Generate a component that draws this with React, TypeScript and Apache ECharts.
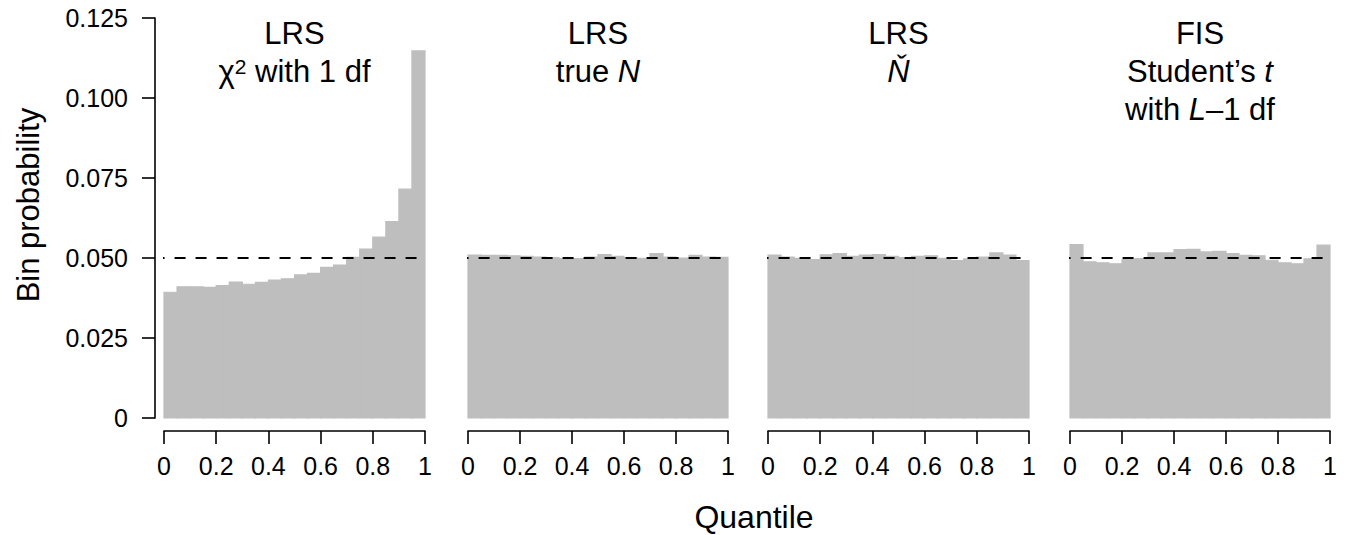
import React, { useEffect, useRef } from "react";
import * as echarts from "echarts";

const binEdges = [0, 0.05, 0.1, 0.15, 0.2, 0.25, 0.3, 0.35, 0.4, 0.45, 0.5, 0.55, 0.6, 0.65, 0.7, 0.75, 0.8, 0.85, 0.9, 0.95, 1];

const lrsChiSq = [0.0393, 0.041, 0.041, 0.0408, 0.0414, 0.0425, 0.0418, 0.0424, 0.0431, 0.0435, 0.0447, 0.0452, 0.0471, 0.0478, 0.0502, 0.0528, 0.0565, 0.0614, 0.0715, 0.1147];
const lrsTrueN = [0.0509, 0.0508, 0.0508, 0.0507, 0.0505, 0.0503, 0.0501, 0.0498, 0.0498, 0.0503, 0.0511, 0.0505, 0.0501, 0.0499, 0.0514, 0.0503, 0.05, 0.0508, 0.0503, 0.0502];
const lrsNHat = [0.0509, 0.0503, 0.0499, 0.0495, 0.051, 0.0514, 0.0505, 0.0509, 0.0511, 0.0505, 0.0501, 0.0505, 0.0507, 0.0499, 0.0492, 0.0497, 0.0503, 0.0516, 0.0509, 0.0492];
const fisStudentT = [0.0542, 0.0488, 0.0485, 0.0482, 0.0495, 0.0498, 0.0516, 0.0516, 0.0526, 0.0527, 0.0519, 0.0521, 0.0514, 0.0508, 0.0507, 0.0493, 0.0485, 0.0482, 0.0497, 0.054];

const panels = [lrsChiSq, lrsTrueN, lrsNHat, fisStudentT];
const referenceLevel = 0.05;
const yTicks = [0, 0.025, 0.05, 0.075, 0.1, 0.125];
const xTicks = [0, 0.2, 0.4, 0.6, 0.8, 1];

const FONT = "'Liberation Sans', Arial, Helvetica, sans-serif";
const gridLefts = [164, 468, 768, 1070];
const gridWidths = [261, 260, 261, 260];
const GRID_TOP = 18;
const GRID_H = 400;
const BAR_COLOR = "#BEBEBE";

export default function App() {
  const ref = useRef<HTMLDivElement>(null);
  useEffect(() => {
    document.body.style.margin = "0";
    if (!ref.current) return;
    const chart = echarts.init(ref.current, null, { renderer: "svg" });

    const grids = gridLefts.map((l, i) => ({
      left: l,
      width: gridWidths[i],
      top: GRID_TOP,
      height: GRID_H,
      containLabel: false,
      outerBoundsMode: "none",
    }));

    const xAxes = gridLefts.map((_, i) => ({
      type: "value",
      gridIndex: i,
      min: xTicks[0],
      max: xTicks[xTicks.length - 1],
      interval: 0.2,
      offset: 13,
      position: "bottom",
      splitLine: { show: false },
      axisLine: { show: true, onZero: false, lineStyle: { color: "#000", width: 1.6 } },
      axisTick: { show: true, length: 13, lineStyle: { color: "#000", width: 1.6 } },
      axisLabel: {
        show: true,
        margin: 22,
        color: "#000",
        fontSize: 25,
        fontFamily: FONT,
        showMinLabel: true,
        showMaxLabel: true,
        formatter: (v: number) => String(+v.toFixed(1)),
      },
    }));

    const yAxes = gridLefts.map((_, i) => ({
      type: "value",
      gridIndex: i,
      min: yTicks[0],
      max: yTicks[yTicks.length - 1],
      interval: 0.025,
      show: i === 0,
      offset: 9,
      position: "left",
      splitLine: { show: false },
      axisLine: { show: true, onZero: false, lineStyle: { color: "#000", width: 1.6 } },
      axisTick: { show: true, length: 13, lineStyle: { color: "#000", width: 1.6 } },
      axisLabel: {
        show: true,
        margin: 27,
        color: "#000",
        fontSize: 25,
        fontFamily: FONT,
        showMinLabel: true,
        showMaxLabel: true,
        formatter: (v: number) => (v === 0 ? "0" : v.toFixed(3)),
      },
    }));

    const series: any[] = [];
    panels.forEach((vals, i) => {
      series.push({
        type: "custom",
        xAxisIndex: i,
        yAxisIndex: i,
        silent: true,
        encode: { x: [0, 1], y: 2 },
        data: vals.map((v, j) => [binEdges[j], binEdges[j + 1], v]),
        renderItem: (params: any, api: any) => {
          const p0 = api.coord([api.value(0), api.value(2)]);
          const p1 = api.coord([api.value(1), 0]);
          return {
            type: "rect",
            shape: { x: p0[0], y: p0[1], width: p1[0] - p0[0], height: p1[1] - p0[1] },
            style: { fill: BAR_COLOR, stroke: BAR_COLOR, lineWidth: 1.2 },
          };
        },
      });
      series.push({
        type: "line",
        xAxisIndex: i,
        yAxisIndex: i,
        silent: true,
        clip: false,
        symbol: "none",
        data: [
          [-0.04, referenceLevel],
          [1.04, referenceLevel],
        ],
        lineStyle: { color: "#000", width: 2, type: [11, 10] },
        z: 5,
      });
    });

    const centers = gridLefts.map((l, i) => l + gridWidths[i] / 2);
    const baseText = { fontSize: 31, fontFamily: FONT, fill: "#000", textAlign: "center", textVerticalAlign: "middle" };
    const rich = {
      n: { fontSize: 31, fontFamily: FONT, color: "#000" },
      i: { fontSize: 31, fontFamily: FONT, color: "#000", fontStyle: "italic" },
      s: { fontSize: 21, fontFamily: FONT, color: "#000", verticalAlign: "top", lineHeight: 21 },
    };
    const titleLines: { panel: number; line: number; text: string }[] = [
      { panel: 0, line: 0, text: "{n|LRS}" },
      { panel: 0, line: 1, text: "{n|χ}{s|2}{n| with 1 df}" },
      { panel: 1, line: 0, text: "{n|LRS}" },
      { panel: 1, line: 1, text: "{n|true }{i|N}" },
      { panel: 2, line: 0, text: "{n|LRS}" },
      { panel: 2, line: 1, text: "{i|Ň}" },
      { panel: 3, line: 0, text: "{n|FIS}" },
      { panel: 3, line: 1, text: "{n|Student’s }{i|t}" },
      { panel: 3, line: 2, text: "{n|with }{i|L}{n|–1 df}" },
    ];
    const lineY = [33, 71, 109];

    const graphics: any[] = titleLines.map((t) => ({
      type: "text",
      x: centers[t.panel],
      y: lineY[t.line],
      silent: true,
      style: { ...baseText, text: t.text, rich },
    }));
    graphics.push({
      type: "text",
      x: 28,
      y: 205,
      rotation: Math.PI / 2,
      silent: true,
      style: { ...baseText, fontSize: 31, text: "Bin probability" },
    });
    graphics.push({
      type: "text",
      x: 754,
      y: 517,
      silent: true,
      style: { ...baseText, fontSize: 32, text: "Quantile" },
    });

    chart.setOption({
      animation: false,
      backgroundColor: "#fff",
      grid: grids,
      xAxis: xAxes,
      yAxis: yAxes,
      series,
      graphic: graphics,
    });
    return () => chart.dispose();
  }, []);
  return <div ref={ref} style={{ width: 1349, height: 535 }} />;
}
